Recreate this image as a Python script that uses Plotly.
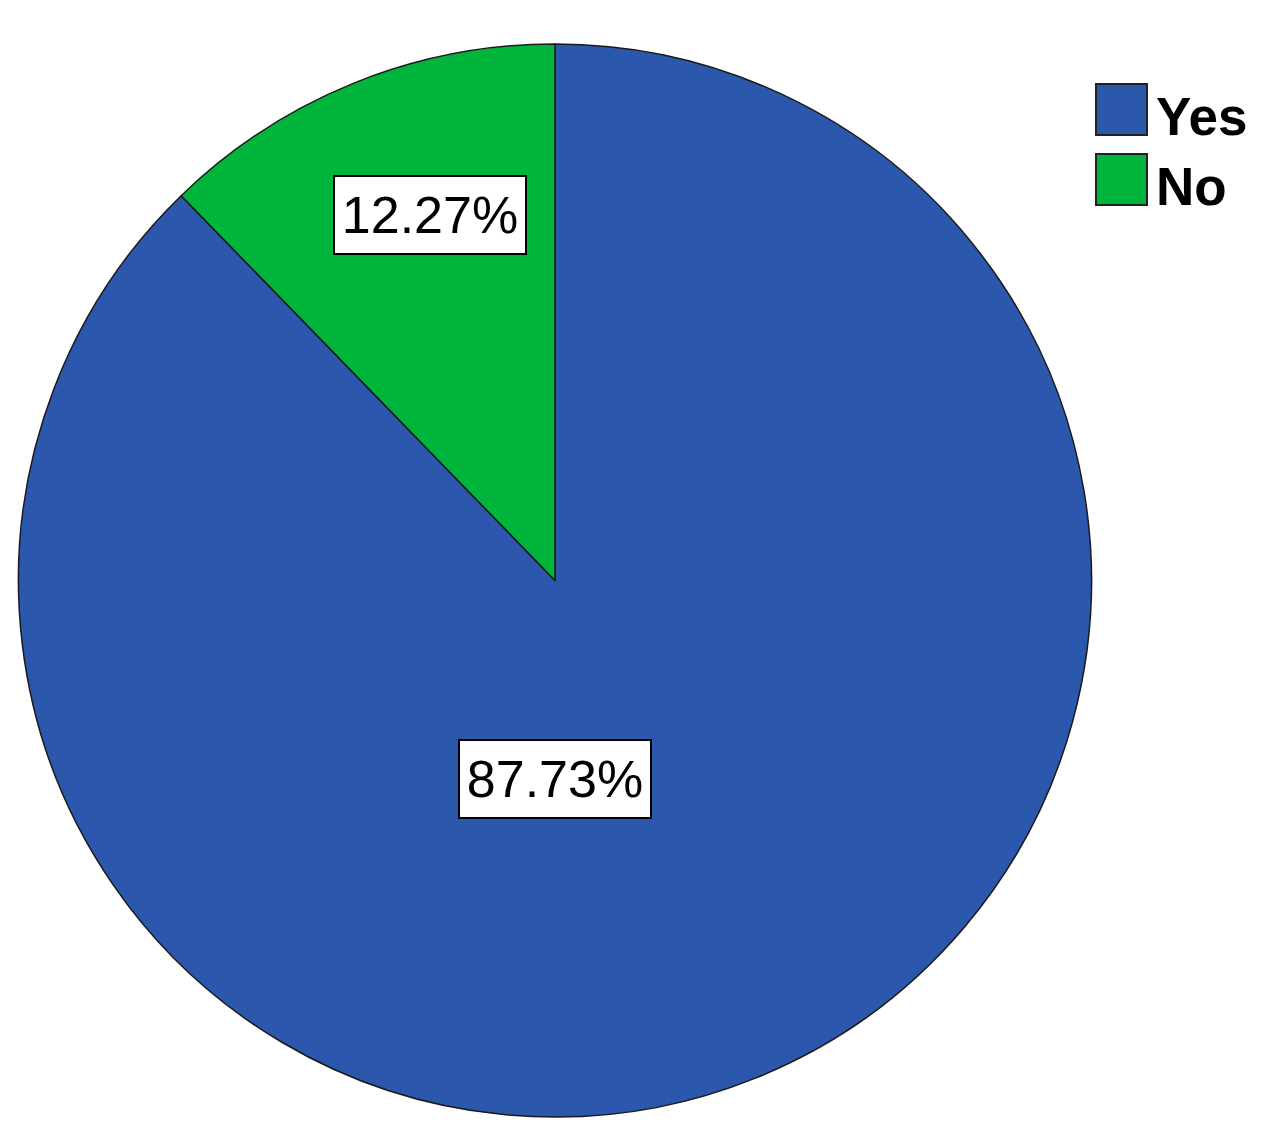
import plotly.graph_objs as go

labels = ["Yes", "No"]
values = [87.73, 12.27]
colors = ["#2B57AD", "#00B53C"]

W, H = 1271, 1141
OFF = 8  # page body margin


def px(x):
    return (x - OFF) / W


def py(y):
    return 1 - (y - OFF) / H


fig = go.Figure()
fig.add_trace(go.Pie(labels=labels, values=values, sort=False, direction="clockwise", rotation=0,
                     marker=dict(colors=colors, line=dict(color="#1a1a1a", width=1.5)),
                     textinfo="none", hoverinfo="label+percent", showlegend=False,
                     domain=dict(x=[px(18), px(1092)], y=[py(1117), py(44)])))

# value labels in white boxes
label_pos = {"Yes": (555, 779), "No": (430, 215)}
for lab, val in zip(labels, values):
    x_, y_ = label_pos[lab]
    fig.add_annotation(x=px(x_), y=py(y_), xref="paper", yref="paper",
                       xanchor="center", yanchor="middle",
                       text="%.2f%%" % val, showarrow=False, width=186, height=72,
                       font=dict(family="Liberation Sans, Arial", size=52, color="black"),
                       bgcolor="white", bordercolor="black", borderwidth=2, borderpad=2)

# legend drawn by hand so the swatches are big like the original
for i, (lab, col) in enumerate(zip(labels, colors)):
    top = 84 + i * 70
    fig.add_shape(type="rect", xref="paper", yref="paper",
                  x0=px(1096), x1=px(1147), y0=py(top + 51), y1=py(top),
                  fillcolor=col, line=dict(color="#222222", width=2))
    fig.add_annotation(x=px(1154), y=py(top + 32), xref="paper", yref="paper",
                       text="<b>%s</b>" % lab, showarrow=False, xanchor="left", yanchor="middle",
                       font=dict(family="Liberation Sans, Arial", size=53, color="black"))

fig.update_layout(width=W, height=H, margin=dict(l=0, r=0, t=0, b=0),
                  paper_bgcolor="white", plot_bgcolor="white")
fig.write_html("out.html")
